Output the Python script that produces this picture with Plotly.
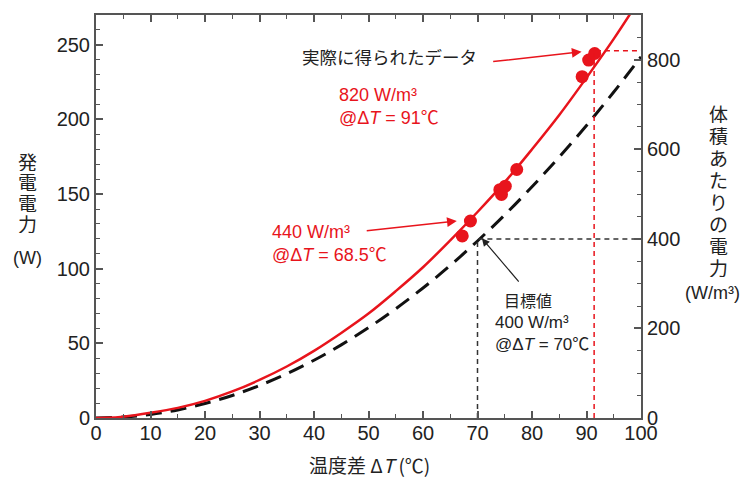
import plotly.graph_objects as go

# ---- data ----
dT_fit = [0, 2, 5, 10, 15, 20, 25, 30, 35, 40, 45, 50, 55, 60, 65, 70, 75, 80, 85, 90, 95, 100]
power_fit = [0, 0.1, 0.9, 3.5, 6.8, 11.5, 17.8, 25.5, 34.5, 45, 57, 70, 85, 101, 119, 138, 158, 180, 203, 228, 254, 282]

dT_target = [0, 5, 10, 15, 20, 25, 30, 35, 40, 45, 50, 55, 60, 65, 70, 75, 80, 85, 90, 95, 100]
power_target = [0, 0.6, 2.4, 5.4, 9.7, 15.1, 21.8, 29.6, 38.7, 49, 60.5, 73.2, 87.1, 102.2, 118.6, 136.1, 154.9, 174.9, 196, 218.4, 242]

meas_dT = [67.2, 68.7, 74.1, 74.4, 75.1, 77.2, 89.2, 90.4, 91.5]
meas_W = [122, 132, 153, 149.8, 155.3, 166.5, 228.7, 239.8, 244.2]

target_dT, target_vol = 70, 400
achieved_dT, achieved_vol = 91.4, 820

x_ticks = [0, 10, 20, 30, 40, 50, 60, 70, 80, 90, 100]
yl_ticks = [0, 50, 100, 150, 200, 250]
yr_ticks = [0, 200, 400, 600, 800]

RED = "#e8141c"
BLK = "#222222"
AX = "#555555"
FONT = "Liberation Sans, Arial, Noto Sans CJK JP, sans-serif"
JFONT = "Noto Sans CJK JP, Liberation Sans, sans-serif"

fig = go.Figure()

# reference dashed lines (on the per-volume axis)
fig.add_trace(go.Scatter(x=[target_dT, target_dT, 100], y=[0, target_vol, target_vol],
                         mode="lines", yaxis="y2",
                         line=dict(color="#333", width=1.5, dash="5px,4px"), hoverinfo="skip"))
fig.add_trace(go.Scatter(x=[achieved_dT, achieved_dT, 100], y=[0, achieved_vol, achieved_vol],
                         mode="lines", yaxis="y2",
                         line=dict(color=RED, width=1.5, dash="5px,4px"), hoverinfo="skip"))

# target curve
fig.add_trace(go.Scatter(x=dT_target, y=power_target, mode="lines", line_shape="spline",
                         line=dict(color="#111", width=3, dash="16px,9px")))
# fitted curve
fig.add_trace(go.Scatter(x=dT_fit, y=power_fit, mode="lines", line_shape="spline",
                         line=dict(color=RED, width=2.5)))
# measured points
fig.add_trace(go.Scatter(x=meas_dT, y=meas_W, mode="markers",
                         marker=dict(color=RED, size=13, line=dict(width=0))))

# page pixel geometry of the plot area (page has an 8px body margin)
OFF = 8
L, R, T, B = 96, 641, 15, 418
def px(x):
    return (x - L) / (R - L)
def py(y):
    return (B - y) / (B - T)

ann = []
def note(x, y, text, font, xanchor="center", align="center", **kw):
    ann.append(dict(x=px(x), y=py(y), xref="paper", yref="paper", xanchor=xanchor,
                    yanchor="middle", align=align, text=text, showarrow=False, font=font, **kw))

# data annotations
ann.append(dict(x=53.9, y=241.9, xref="x", yref="y", xanchor="center", yanchor="middle",
                text="実際に得られたデータ", showarrow=False,
                font=dict(family=JFONT, size=17.5, color=BLK)))
ann.append(dict(x=89.1, y=245.4, ax=72.6, ay=238.7, xref="x", yref="y", axref="x", ayref="y",
                text="", showarrow=True, arrowhead=2, arrowsize=1.3, arrowwidth=1.5, arrowcolor=RED))
note(337, 106, "820 W/m³<br>@Δ<i>T</i> = 91℃", dict(family=FONT, size=18, color=RED), "left", "left")
note(270, 244, "440 W/m³<br>@Δ<i>T</i> = 68.5℃", dict(family=FONT, size=18, color=RED), "left", "left")
ann.append(dict(x=66.2, y=132, ax=49.4, ay=125.3, xref="x", yref="y", axref="x", ayref="y",
                text="", showarrow=True, arrowhead=2, arrowsize=1.3, arrowwidth=1.5, arrowcolor=RED))
note(528, 300, "目標値", dict(family=JFONT, size=16, color=BLK))
note(493, 333, "400 W/m³<br>@Δ<i>T</i> = 70℃", dict(family=FONT, size=17, color=BLK), "left", "left")
ann.append(dict(x=70.8, y=120.4, ax=77.8, ay=90.4, xref="x", yref="y", axref="x", ayref="y",
                text="", showarrow=True, arrowhead=2, arrowsize=1.3, arrowwidth=1.2, arrowcolor=BLK))

# axis titles (stacked vertical characters)
for i, ch in enumerate("発電電力"):
    note(27, 161 + 20.7 * i, ch, dict(family=JFONT, size=19, color=BLK), height=19, borderpad=0)
note(27, 258, "(W)", dict(family=FONT, size=18, color=BLK))
for i, ch in enumerate("体積あたりの電力"):
    note(718, 113 + 22 * i, ch, dict(family=JFONT, size=19, color=BLK), height=20, borderpad=0)
note(712, 293, "(W/m³)", dict(family=FONT, size=18, color=BLK))
note(369, 464, "温度差 Δ<i>T</i> (℃)", dict(family=JFONT, size=19, color=BLK))

axis_common = dict(showline=True, linecolor=AX, linewidth=2, showgrid=False, zeroline=False,
                   ticks="inside", ticklen=7, tickwidth=1.5, tickcolor=AX, automargin=False,
                   tickfont=dict(family=FONT, size=20, color=BLK))

W, H = 752 - OFF, 477 - OFF
fig.update_layout(
    width=W, height=H,
    margin=dict(l=L - OFF, r=752 - R, t=T - OFF, b=477 - B, autoexpand=False),
    paper_bgcolor="white", plot_bgcolor="white",
    showlegend=False,
    xaxis=dict(range=[0, 100], tickvals=x_ticks, mirror="ticks", ticklabelstandoff=-4,
               minor=dict(dtick=5, ticks="inside", ticklen=4, tickcolor=AX, tickwidth=1.2),
               **axis_common),
    yaxis=dict(range=[0, 270], tickvals=yl_ticks,
               minor=dict(dtick=10, ticks="inside", ticklen=4, tickcolor=AX, tickwidth=1.2),
               **axis_common),
    yaxis2=dict(range=[0, 900], tickvals=yr_ticks, overlaying="y", side="right",
                minor=dict(dtick=50, ticks="inside", ticklen=4, tickcolor=AX, tickwidth=1.2),
                **axis_common),
    annotations=ann,
)

fig.write_html("out.html")
